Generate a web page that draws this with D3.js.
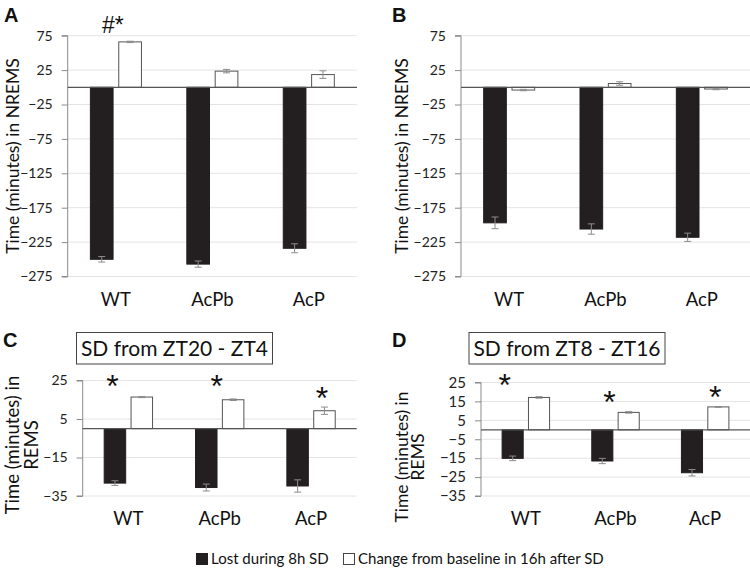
<!DOCTYPE html>
<html><head><meta charset="utf-8">
<script src="https://cdn.jsdelivr.net/npm/d3@7"></script>
<style>
html,body{margin:0;padding:0;background:#fff;}
svg{display:block;font-family:Lato,"Noto Sans",sans-serif;}
</style></head>
<body>
<script>
// ---- data ----
const categories = ["WT", "AcPb", "AcP"];
const seriesNames = ["Lost during 8h SD", "Change from baseline in 16h after SD"];

const nremA_lost = [-250, -257, -234];
const nremA_lostErr = [4, 4.5, 6.5];
const nremA_change = [66, 23.5, 18.5];
const nremA_changeErr = [1, 2.5, 5.5];

const nremB_lost = [-197, -206, -218];
const nremB_lostErr = [8.5, 7.5, 6];
const nremB_change = [-4, 5.5, -2.5];
const nremB_changeErr = [1, 2.5, 1];

const remC_lost = [-28.3, -30.6, -29.8];
const remC_lostErr = [1.2, 1.8, 3.2];
const remC_change = [16.4, 15, 9.3];
const remC_changeErr = [0.3, 0.4, 1.9];

const remD_lost = [-15.1, -16.5, -22.7];
const remD_lostErr = [1.2, 1.4, 1.7];
const remD_change = [17.1, 9.2, 12.1];
const remD_changeErr = [0.4, 0.4, 0.2];

const ticksNREM = [-275, -225, -175, -125, -75, -25, 25, 75];
const ticksREMC = [-35, -15, 5, 25];
const ticksREMD = [-35, -25, -15, -5, 5, 15, 25];

const titleC = "SD from ZT20 - ZT4";
const titleD = "SD from ZT8 - ZT16";
const yTitleNREM = ["Time (minutes) in NREMS"];
const yTitleREM = ["Time (minutes) in", "REMS"];

// annotations: [category, text]
const annA = [["WT", "#*"]];
const annC = [["WT", "*"], ["AcPb", "*"], ["AcP", "*"]];
const annD = [["WT", "*"], ["AcPb", "*"], ["AcP", "*"]];

// ---- drawing ----
const W = 750, H = 568;
const svg = d3.select("body").append("svg").attr("width", W).attr("height", H);

function panel(cfg) {
  const g = svg.append("g");
  const x0 = d3.scaleBand().domain(categories).range([cfg.left, cfg.right]).padding(0);
  const x1 = d3.scaleBand().domain([0, 1]).range([0, x0.bandwidth()]).paddingInner(0.2).paddingOuter(0.8);
  const y = d3.scaleLinear().domain(cfg.domain).range([cfg.bottom, cfg.top]);

  // gridlines
  g.append("g").selectAll("line").data(cfg.ticks).join("line")
    .attr("x1", cfg.left).attr("x2", cfg.right)
    .attr("y1", d => y(d)).attr("y2", d => y(d))
    .attr("stroke", "#e4e4e4").attr("stroke-width", 1);

  // axis
  const ax = g.append("g").attr("transform", `translate(${cfg.left},0)`)
    .call(d3.axisLeft(y).tickValues(cfg.ticks).tickSize(6).tickPadding(9).tickFormat(d3.format("d")));
  ax.select(".domain").attr("stroke", "#8a8a8a").attr("d", `M-6,${y(cfg.domain[1])}H0V${y(cfg.domain[0])}H-6`);
  ax.selectAll(".tick line").attr("stroke", "#8a8a8a");
  ax.selectAll(".tick text").attr("fill", "#222").style("font-size", cfg.tickFont + "px")
    .style("font-family", "Lato, 'Noto Sans', sans-serif");

  const seriesVals = [cfg.lost, cfg.change];
  const seriesErr = [cfg.lostErr, cfg.changeErr];
  const bars = [];
  categories.forEach((c, i) => {
    [0, 1].forEach(s => bars.push({c, s, v: seriesVals[s][i], e: seriesErr[s][i]}));
  });

  g.append("g").selectAll("rect").data(bars).join("rect")
    .attr("x", d => x0(d.c) + x1(d.s))
    .attr("width", x1.bandwidth())
    .attr("y", d => Math.min(y(d.v), y(0)))
    .attr("height", d => Math.abs(y(d.v) - y(0)))
    .attr("fill", d => d.s === 0 ? "#231f20" : "#fff")
    .attr("stroke", d => d.s === 0 ? "#231f20" : "#555")
    .attr("stroke-width", 1);

  // zero line
  g.append("line").attr("x1", cfg.left).attr("x2", cfg.right)
    .attr("y1", y(0)).attr("y2", y(0)).attr("stroke", "#555").attr("stroke-width", 1.3);

  // error bars
  const eg = g.append("g").attr("stroke", "#8c8c8c").attr("stroke-width", 1);
  bars.forEach(d => {
    const cx = x0(d.c) + x1(d.s) + x1.bandwidth() / 2;
    const y1 = y(d.v - d.e), y2 = y(d.v + d.e);
    eg.append("line").attr("x1", cx).attr("x2", cx).attr("y1", y1).attr("y2", y2);
    eg.append("line").attr("x1", cx - 3.5).attr("x2", cx + 3.5).attr("y1", y1).attr("y2", y1);
    eg.append("line").attr("x1", cx - 3.5).attr("x2", cx + 3.5).attr("y1", y2).attr("y2", y2);
  });

  // category labels
  g.append("g").selectAll("text").data(categories).join("text")
    .attr("x", d => x0(d) + x0.bandwidth() / 2)
    .attr("y", cfg.catY)
    .attr("text-anchor", "middle")
    .attr("fill", "#111")
    .style("font-size", cfg.catFont + "px")
    .text(d => d);

  // y title
  const yt = g.append("text")
    .attr("transform", `translate(${cfg.ytX},${cfg.ytY}) rotate(-90)`)
    .attr("text-anchor", "middle").attr("fill", "#111")
    .style("font-size", cfg.ytFont + "px");
  cfg.yTitle.forEach((t, i) => {
    yt.append("tspan").attr("x", 0).attr("dy", i === 0 ? 0 : cfg.ytLine).text(t);
  });

  // panel letter
  g.append("text").attr("x", cfg.letterX).attr("y", cfg.letterY)
    .style("font-size", "20px").style("font-weight", "bold")
    .style("font-family", "'Liberation Sans', Arial, sans-serif")
    .attr("fill", "#111").text(cfg.letter);

  // annotations
  cfg.ann.forEach((a, i) => {
    const cx = x0(a[0]) + x0.bandwidth() / 2 + cfg.annDx[i];
    g.append("text").attr("x", cx).attr("y", cfg.annY[i])
      .attr("text-anchor", "middle").attr("fill", "#111")
      .style("font-size", (a[1] === "*" ? cfg.starFont : 23) + "px")
      .style("font-family", "'Liberation Sans', Arial, sans-serif")
      .text(a[1]);
  });

  // title box
  if (cfg.title) {
    const tb = g.append("g");
    tb.append("rect").attr("x", cfg.boxX).attr("y", 332.5).attr("width", 196).attr("height", 31.5)
      .attr("fill", "#fff").attr("stroke", "#444").attr("stroke-width", 1);
    tb.append("text").attr("x", cfg.boxX + 98).attr("y", 356)
      .attr("text-anchor", "middle").attr("fill", "#111")
      .style("font-size", "21px").text(cfg.title);
  }
}

panel({
  letter: "A", letterX: 4, letterY: 22,
  left: 67.7, right: 357, top: 35.7, bottom: 276.5, domain: [-275, 75], ticks: ticksNREM,
  lost: nremA_lost, lostErr: nremA_lostErr, change: nremA_change, changeErr: nremA_changeErr,
  catY: 306, catFont: 18.5, tickFont: 14, yTitle: yTitleNREM, ytX: 19, ytY: 156, ytFont: 17.5, ytLine: 0,
  ann: annA, annDx: [-3], annY: [33], starFont: 20
});
panel({
  letter: "B", letterX: 392, letterY: 22,
  left: 461, right: 750, top: 35.7, bottom: 276.5, domain: [-275, 75], ticks: ticksNREM,
  lost: nremB_lost, lostErr: nremB_lostErr, change: nremB_change, changeErr: nremB_changeErr,
  catY: 306, catFont: 18.5, tickFont: 14, yTitle: yTitleNREM, ytX: 408, ytY: 156, ytFont: 17.5, ytLine: 0,
  ann: [], annDx: [], annY: [], starFont: 26
});
panel({
  letter: "C", letterX: 3, letterY: 347,
  left: 82.7, right: 356.7, top: 380.5, bottom: 496, domain: [-35, 25], ticks: ticksREMC,
  lost: remC_lost, lostErr: remC_lostErr, change: remC_change, changeErr: remC_changeErr,
  catY: 525, catFont: 18.5, tickFont: 14, yTitle: yTitleREM, ytX: 19, ytY: 445, ytFont: 18.5, ytLine: 19,
  ann: annC, annDx: [-16, -3, 11], annY: [397, 397, 409], starFont: 32,
  title: titleC, boxX: 76.5
});
panel({
  letter: "D", letterX: 392, letterY: 347,
  left: 481, right: 750, top: 382.5, bottom: 496, domain: [-35, 25], ticks: ticksREMD,
  lost: remD_lost, lostErr: remD_lostErr, change: remD_change, changeErr: remD_changeErr,
  catY: 525, catFont: 18.5, tickFont: 15, yTitle: yTitleREM, ytX: 408, ytY: 457, ytFont: 17.5, ytLine: 16,
  ann: annD, annDx: [-21, -6, 10], annY: [396, 413, 408], starFont: 32,
  title: titleD, boxX: 469
});

// legend
const leg = svg.append("g").style("font-size", "15px");
const legendX = [196, 343];
seriesNames.forEach((n, i) => {
  leg.append("rect").attr("x", legendX[i] + 0.5).attr("y", 553.5).attr("width", 11).attr("height", 11)
    .attr("fill", i === 0 ? "#231f20" : "#fff").attr("stroke", i === 0 ? "#231f20" : "#444");
  leg.append("text").attr("x", legendX[i] + 15).attr("y", 564).attr("fill", "#111").text(n);
});
</script>
</body></html>
